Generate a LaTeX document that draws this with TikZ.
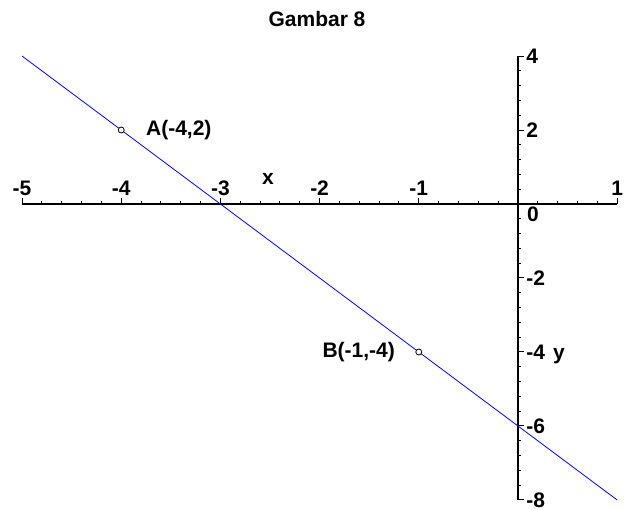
\documentclass[tikz,border=0pt]{standalone}
\usepackage{fontspec}
\setmainfont{Liberation Sans}
\usetikzlibrary{positioning}
\definecolor{graphline}{HTML}{0000FF}

\begin{document}
\begin{tikzpicture}[x=99.2pt, y=37pt,
  every node/.style={font=\fontsize{21}{24}\selectfont\bfseries},
  axis/.style={line width=1.4pt},
  tick/.style={line width=1pt},
  ticklab/.style={inner sep=2pt},
  pt/.style={draw,circle,fill=white,line width=0.8pt,inner sep=0pt,minimum size=6pt},
]
  \useasboundingbox (-5.222,-8.270) rectangle (1.079,5.514);
  \node (title) at (-2.026,5.0) {Gambar 8};

  \draw[axis] (-5,0) -- (1,0);
  \draw[axis] (0,-8) -- (0,4);
  \foreach \k in {0,...,30} \draw[tick] ({-5+\k/5},0) -- ++(0,3pt);
  \foreach \k in {0,...,30} \draw[tick] (0,{-8+\k*0.4}) -- ++(3pt,0);
  \foreach \i in {-5,-4,-3,-2,-1,1}
    \draw[tick] (\i,0) -- ++(0,6pt) node[ticklab,anchor=south] (xtick\i) {\i};
  \foreach \j in {4,2,-2,-4,-6,-8}
    \draw[tick] (0,\j) -- ++(6pt,0) node[ticklab,anchor=west] (ytick\j) {\j};
  \node (zero) at (0.151,-0.27) {0};
  \node (xlab) at (-2.52,0.676) {x};
  \node[anchor=base west] (ylab) at ([xshift=2pt]ytick-4.base east) {y};

  \coordinate (start) at (-5,4);
  \coordinate (end) at (1,-8);
  \draw[graphline,line width=0.8pt] (start) -- (end);

  \node[pt] (A) at (-4,2) {};
  \node[pt] (B) at (-1,-4) {};
  \node[right=18pt of A] (Alab) {A(-4,2)};
  \node[left=17pt of B] (Blab) {B(-1,-4)};
\end{tikzpicture}
\end{document}
